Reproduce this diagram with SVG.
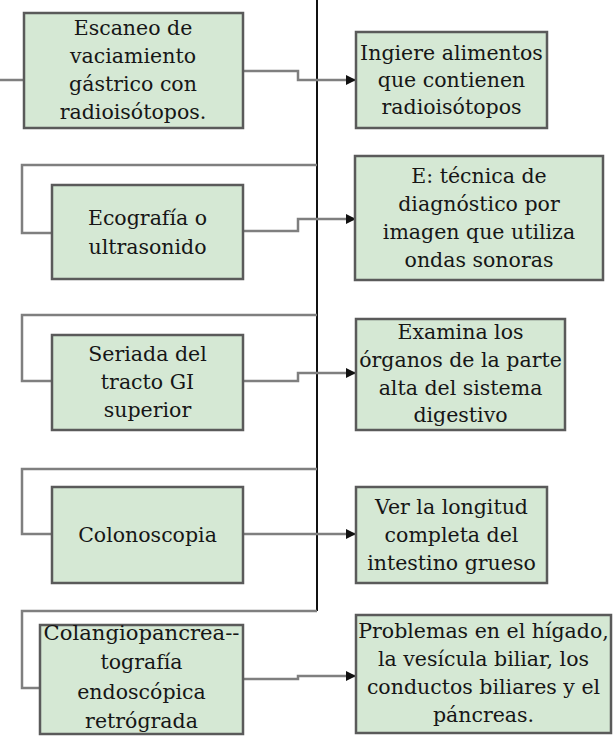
<svg xmlns="http://www.w3.org/2000/svg" width="613" height="736" viewBox="0 0 613 736">
<style>
.box{fill:#d5e8d4;stroke:#5a5a5a;stroke-width:2.5}
.t{font-family:"DejaVu Serif","Liberation Serif",serif;font-size:20.5px;fill:#161616;text-anchor:middle}
.c{fill:none;stroke:#7f7f7f;stroke-width:2.5}
.spine{fill:none;stroke:#111;stroke-width:2}
</style>
<defs>
<marker id="ah" markerWidth="10" markerHeight="10" refX="9" refY="5" orient="auto" markerUnits="userSpaceOnUse">
<path d="M0,0 L10,5 L0,10 Z" fill="#111"/>
</marker>
</defs>
<g id="connectors">
<path class="spine" d="M317,0 V611"/>
<path class="c" d="M0,80 H24"/>
<path class="c" d="M317,165 H22 V233 H52"/>
<path class="c" d="M317,315 H22 V381 H52"/>
<path class="c" d="M317,469 H22 V534 H52"/>
<path class="c" d="M317,611 H22 V688 H40"/>
<path class="c" d="M243,71 H298 V80 H355" marker-end="url(#ah)"/>
<path class="c" d="M243,231 H298 V219 H355" marker-end="url(#ah)"/>
<path class="c" d="M243,381 H298 V373 H355" marker-end="url(#ah)"/>
<path class="c" d="M243,534 H355" marker-end="url(#ah)"/>
<path class="c" d="M243,679 H298 V676 H355" marker-end="url(#ah)"/>
</g>
<g id="n1">
<rect class="box" x="24" y="13" width="219" height="115"/>
<text class="t" x="133" y="35">Escaneo de</text>
<text class="t" x="133" y="63">vaciamiento</text>
<text class="t" x="133" y="91">gástrico con</text>
<text class="t" x="133" y="119">radioisótopos.</text>
</g>
<g id="n1d">
<rect class="box" x="356" y="32" width="191" height="96"/>
<text class="t" x="451.5" y="60">Ingiere alimentos</text>
<text class="t" x="451.5" y="87">que contienen</text>
<text class="t" x="451.5" y="114">radioisótopos</text>
</g>
<g id="n2">
<rect class="box" x="52" y="185" width="191" height="94"/>
<text class="t" x="147.5" y="225">Ecografía o</text>
<text class="t" x="147.5" y="254">ultrasonido</text>
</g>
<g id="n2d">
<rect class="box" x="355" y="156" width="248" height="124"/>
<text class="t" x="479" y="183">E: técnica de</text>
<text class="t" x="479" y="211">diagnóstico por</text>
<text class="t" x="479" y="239">imagen que utiliza</text>
<text class="t" x="479" y="267">ondas sonoras</text>
</g>
<g id="n3">
<rect class="box" x="52" y="335" width="191" height="95"/>
<text class="t" x="147.5" y="361">Seriada del</text>
<text class="t" x="147.5" y="389">tracto GI</text>
<text class="t" x="147.5" y="417">superior</text>
</g>
<g id="n3d">
<rect class="box" x="356" y="319" width="209" height="111"/>
<text class="t" x="460.5" y="339">Examina los</text>
<text class="t" x="460.5" y="367">órganos de la parte</text>
<text class="t" x="460.5" y="395">alta del sistema</text>
<text class="t" x="460.5" y="422">digestivo</text>
</g>
<g id="n4">
<rect class="box" x="52" y="487" width="191" height="96"/>
<text class="t" x="147.5" y="542">Colonoscopia</text>
</g>
<g id="n4d">
<rect class="box" x="356" y="487" width="191" height="96"/>
<text class="t" x="451.5" y="514">Ver la longitud</text>
<text class="t" x="451.5" y="542">completa del</text>
<text class="t" x="451.5" y="570">intestino grueso</text>
</g>
<g id="n5">
<rect class="box" x="40" y="625" width="203" height="109"/>
<text class="t" x="141.5" y="640" textLength="196" lengthAdjust="spacingAndGlyphs">Colangiopancrea--</text>
<text class="t" x="141.5" y="669">tografía</text>
<text class="t" x="141.5" y="699">endoscópica</text>
<text class="t" x="141.5" y="728">retrógrada</text>
</g>
<g id="n5d">
<rect class="box" x="356" y="615" width="255" height="118"/>
<text class="t" x="483.5" y="638">Problemas en el hígado,</text>
<text class="t" x="483.5" y="666">la vesícula biliar, los</text>
<text class="t" x="483.5" y="694">conductos biliares y el</text>
<text class="t" x="483.5" y="722">páncreas.</text>
</g>
</svg>
